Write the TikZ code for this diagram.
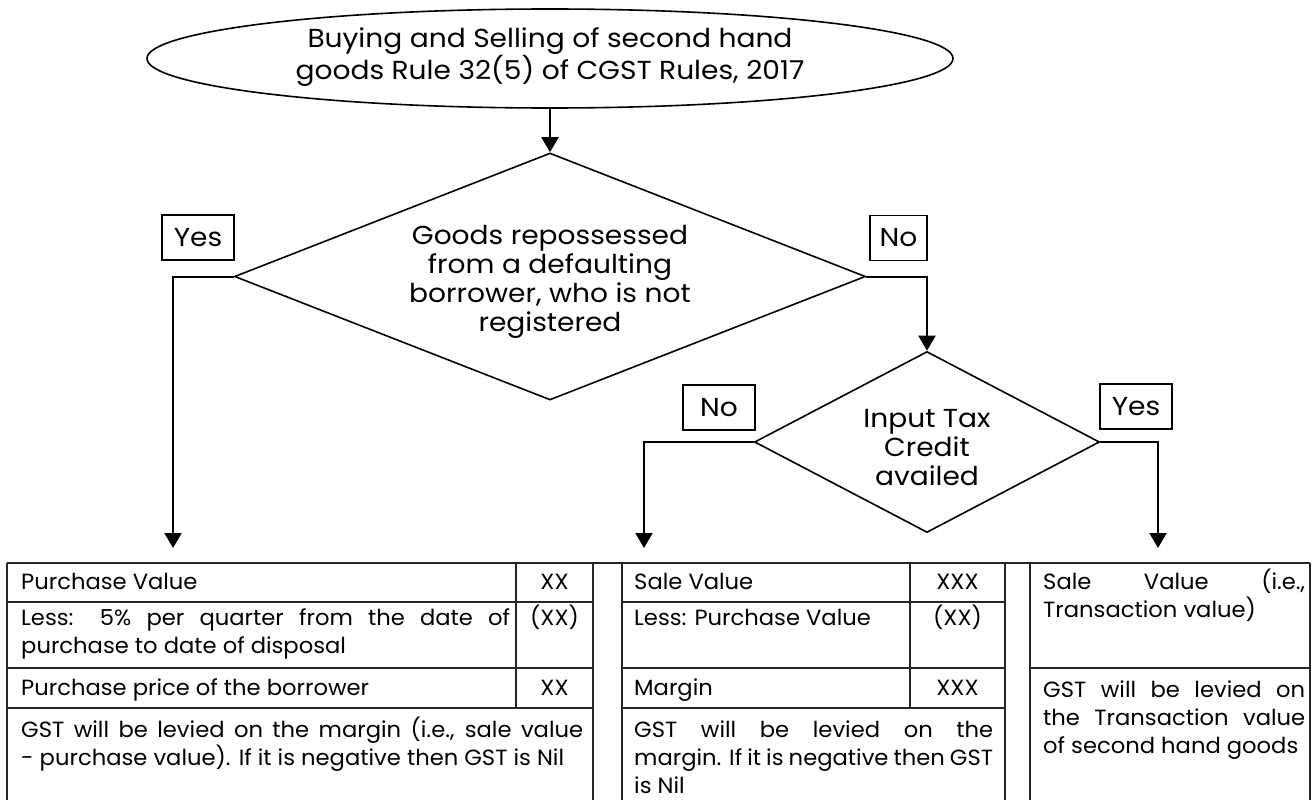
\documentclass[tikz,border=0pt]{standalone}
\usepackage{fontspec}
\setmainfont{Poppins}
\newfontfamily\diafam[FakeStretch=1.08]{Poppins}
\newfontfamily\tabfam[FakeStretch=1.03]{Poppins}
\usetikzlibrary{shapes.geometric,arrows.meta}
\newcommand{\tabfont}{\tabfam\fontsize{22}{28}\selectfont}
\newcommand{\diafont}{\diafam\fontsize{26}{29}\selectfont}
\begin{document}
\begin{tikzpicture}[x=1pt,y=-1pt,
 conn/.style={line width=2pt,-{Triangle[length=15pt,width=17pt]}},
 shapeline/.style={draw,line width=1.6pt,inner sep=0pt},
 shapetext/.style={font=\diafont,align=center,inner sep=0pt},
 lbl/.style={draw,line width=1.6pt,minimum height=45pt,inner sep=0pt,font=\diafont},
 tbl/.style={line width=2pt,draw=black!85},
 cell/.style={anchor=base west,inner sep=0pt,align=left,font=\tabfont},
 val/.style={anchor=base,inner sep=0pt,font=\tabfont}]
\useasboundingbox (0,0) rectangle (1315,800);

% flowchart
\node[shapeline,ellipse,minimum width=806pt,minimum height=99pt] (start) at (550,58.5) {};
\node[shapetext] (starttext) at (550,57) {Buying and Selling of second hand\\goods Rule 32(5) of CGST Rules, 2017};

\node[shapeline,diamond,aspect=2.555,minimum width=631pt,minimum height=247pt] (q1) at (550,276.5) {};
\node[shapetext] (q1text) at (550,282) {Goods repossessed\\from a defaulting\\borrower, who is not\\registered};
\node[shapeline,diamond,aspect=1.906,minimum width=345pt,minimum height=181pt] (q2) at (927,442) {};
\node[shapetext] (q2text) at (927,448) {Input Tax\\Credit\\availed};

\node[lbl,minimum width=72pt] (yes1) at (198,237.5) {Yes};
\node[lbl,minimum width=57pt] (no1) at (898.5,238) {No};
\node[lbl,minimum width=72pt] (no2) at (719,407.5) {No};
\node[lbl,minimum width=72pt] (yes2) at (1136,406.5) {Yes};

\coordinate (e1) at (173,548);
\coordinate (e2) at (644,548);
\coordinate (e3) at (1158,548);

\draw[conn] (start.south) -- (q1.north);
\draw[conn] (q1.west) -| (e1);
\draw[conn] (q1.east) -| (q2.north);
\draw[conn] (q2.west) -| (e2);
\draw[conn] (q2.east) -| (e3);

% tables
\draw[tbl] (7,563) -- (1310,563);
\foreach \x in {7,593,622,1005,1030,1310} \draw[tbl] (\x,563) -- (\x,800);
\draw[tbl] (516,563) -- (516,708);
\draw[tbl] (910,563) -- (910,708);
\foreach \y in {602,668,708} {\draw[tbl] (7,\y) -- (593,\y); \draw[tbl] (622,\y) -- (1005,\y);}
\draw[tbl] (1030,668) -- (1310,668);

% multi-line cells are anchored at the baseline of their last line
\node[cell] (t1a) at (21,589.5) {Purchase Value};
\node[val] (t1av) at (554.5,589.5) {XX};
\node[cell] (t1b) at (21,653.5) {\makebox[489pt][s]{Less: 5\% per quarter from the date of}\\purchase to date of disposal};
\node[val] (t1bv) at (554.5,625.5) {(XX)};
\node[cell] (t1c) at (21,695.5) {Purchase price of the borrower};
\node[val] (t1cv) at (554.5,695.5) {XX};
\node[cell] (t1d) at (21,765) {\makebox[562pt][s]{GST will be levied on the margin (i.e., sale value}\\- purchase value). If it is negative then GST is Nil};

\node[cell] (t2a) at (634,589.5) {Sale Value};
\node[val] (t2av) at (957.5,589.5) {XXX};
\node[cell] (t2b) at (634,625.5) {Less: Purchase Value};
\node[val] (t2bv) at (957.5,625.5) {(XX)};
\node[cell] (t2c) at (634,695.5) {Margin};
\node[val] (t2cv) at (957.5,695.5) {XXX};
\node[cell] (t2d) at (634,793) {\makebox[359pt][s]{GST will be levied on the}\\\makebox[359pt][s]{margin. If it is negative then GST}\\is Nil};

\node[cell] (t3a) at (1043,617.5) {\makebox[262pt][s]{Sale Value (i.e.,}\\Transaction value)};
\node[cell] (t3b) at (1043,753) {\makebox[262pt][s]{GST will be levied on}\\\makebox[262pt][s]{the Transaction value}\\of second hand goods};
\end{tikzpicture}
\end{document}
